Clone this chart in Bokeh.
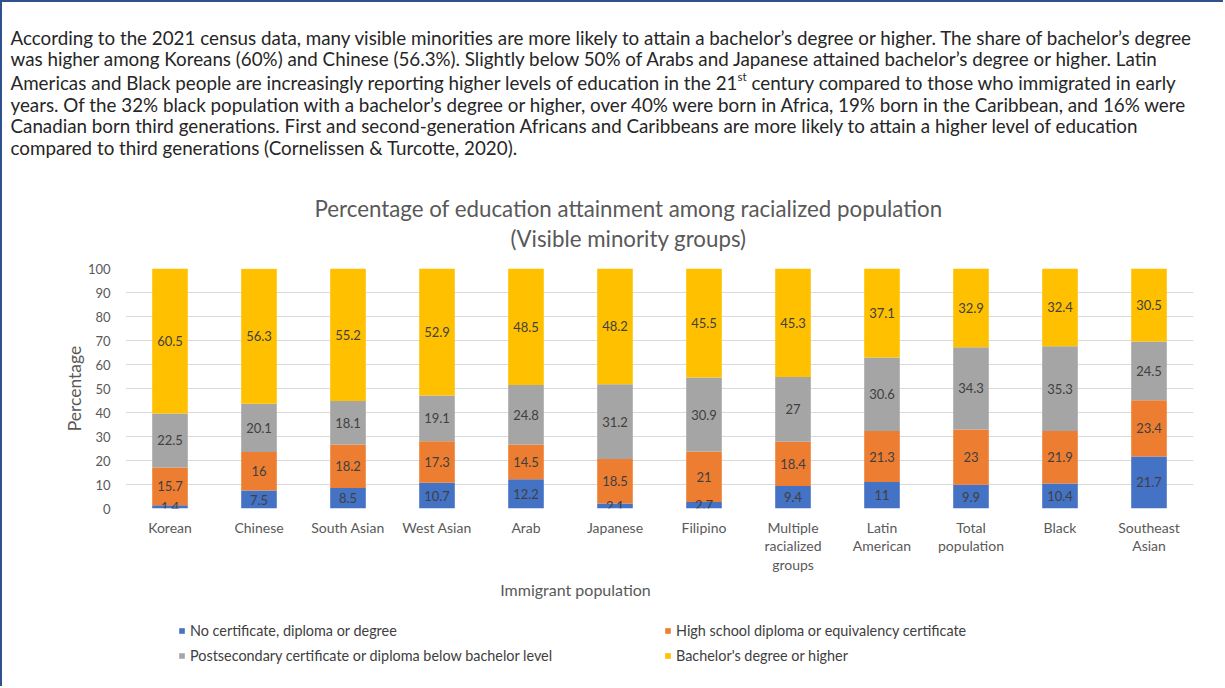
from bokeh.plotting import figure
from bokeh.models import (ColumnDataSource, Label, LabelSet, Legend, LegendItem,
                          FixedTicker, Range1d, FactorRange)
from bokeh.core.properties import value
from bokeh.embed import file_html
from bokeh.resources import INLINE

# ---------------- data ----------------
categories = ["Korean", "Chinese", "South Asian", "West Asian", "Arab", "Japanese",
              "Filipino", "Multiple\nracialized\ngroups", "Latin\nAmerican",
              "Total\npopulation", "Black", "Southeast\nAsian"]
no_certificate = [1.4, 7.5, 8.5, 10.7, 12.2, 2.1, 2.7, 9.4, 11, 9.9, 10.4, 21.7]
high_school = [15.7, 16, 18.2, 17.3, 14.5, 18.5, 21, 18.4, 21.3, 23, 21.9, 23.4]
postsecondary = [22.5, 20.1, 18.1, 19.1, 24.8, 31.2, 30.9, 27, 30.6, 34.3, 35.3, 24.5]
bachelor = [60.5, 56.3, 55.2, 52.9, 48.5, 48.2, 45.5, 45.3, 37.1, 32.9, 32.4, 30.5]
series_names = ["No certificate, diploma or degree",
                "High school diploma or equivalency certificate",
                "Postsecondary certificate or diploma below bachelor level",
                "Bachelor's degree or higher"]
y_ticks = [0, 10, 20, 30, 40, 50, 60, 70, 80, 90, 100]

title_lines = ["Percentage of education attainment among racialized population",
               "(Visible minority groups)"]
x_title = "Immigrant population"
y_title = "Percentage"

paragraph = [
    "According to the 2021 census data, many visible minorities are more likely to attain a bachelor\u2019s degree or higher. The share of bachelor\u2019s degree",
    "was higher among Koreans (60%) and Chinese (56.3%). Slightly below 50% of Arabs and Japanese attained bachelor\u2019s degree or higher. Latin",
    "Americas and Black people are increasingly reporting higher levels of education in the 21",
    "years.  Of the 32%  black population with a bachelor\u2019s degree or higher, over 40% were born in Africa, 19% born in the Caribbean, and 16% were",
    "Canadian born third generations. First and second-generation Africans and Caribbeans are more likely to attain a higher level of education",
    "compared to third generations (Cornelissen & Turcotte, 2020).",
]
para_sup = "st"
para_line3_rest = "century compared to those who immigrated in early"

colors = ["#4472C4", "#ED7D31", "#A5A5A5", "#FFC000"]
FONT = "Lato"
BORDER = "2px solid #2F528F"
W = 1223  # + 2px left border = 1225

# page geometry
TOP_H_PAGE = 255       # top figure covers page y 0..255 (incl. 2px border)
CHART_BOTTOM = 579     # chart figure covers 255..579
PAGE_H = 688
FRAME_L, FRAME_T, FRAME_R, FRAME_B = 125, 270, 1193, 510


def blank_fig(h):
    f = figure(width=W, height=h, x_range=Range1d(0, 1), y_range=Range1d(0, 1),
               output_backend="svg", toolbar_location=None,
               min_border=0, min_border_left=0, min_border_right=0,
               min_border_top=0, min_border_bottom=0)
    f.axis.visible = False
    f.grid.visible = False
    f.outline_line_color = None
    f.border_fill_color = "white"
    return f


def screen_label(fig, x, y, text, size, color, align="left"):
    fig.add_layout(Label(x=x, y=y, x_units="screen", y_units="screen", text=text,
                         text_align=align, text_baseline="middle", text_font=FONT,
                         text_font_size=size, text_color=color))


# ---------------- top figure: paragraph + title ----------------
top = blank_fig(TOP_H_PAGE - 2)
top.styles = {"border-left": BORDER, "border-top": BORDER}
def tx(px):
    return px - 2
def ty(py):
    return TOP_H_PAGE - py

PARA_SIZE = "18.8px"
para_y = [37, 58, 82, 104, 125, 147]
for t, yy in zip(paragraph, para_y):
    screen_label(top, tx(10), ty(yy), t, PARA_SIZE, "#262626")
screen_label(top, tx(737), ty(76), para_sup, "11.5px", "#262626")
screen_label(top, tx(751), ty(82), para_line3_rest, PARA_SIZE, "#262626")
for i, t in enumerate(title_lines):
    screen_label(top, tx(628), ty(208 + 30 * i), t, "22.3px", "#595959", align="center")

# ---------------- chart figure ----------------
CH = CHART_BOTTOM - TOP_H_PAGE
p = figure(width=W, height=CH, x_range=FactorRange(*categories, range_padding=0),
           y_range=Range1d(0, 100), output_backend="svg", toolbar_location=None,
           min_border_left=FRAME_L - 2, min_border_right=W + 2 - FRAME_R,
           min_border_top=FRAME_T - TOP_H_PAGE, min_border_bottom=CHART_BOTTOM - FRAME_B)
p.styles = {"border-left": BORDER}
p.outline_line_color = None
p.border_fill_color = "white"

keys = ["no_cert", "high", "post", "bach"]
src = ColumnDataSource(dict(cat=categories, no_cert=no_certificate, high=high_school,
                            post=postsecondary, bach=bachelor))
rs = p.vbar_stack(keys, x="cat", width=0.4, color=colors, source=src, line_width=0)

lx, ly, lt = [], [], []
for i, c in enumerate(categories):
    base = 0.0
    for arr in (no_certificate, high_school, postsecondary, bachelor):
        v = arr[i]
        lx.append(c)
        ly.append(base + v / 2.0)
        lt.append(f"{v:g}")
        base += v
lsrc = ColumnDataSource(dict(x=lx, y=ly, t=lt))
p.add_layout(LabelSet(x="x", y="y", text="t", source=lsrc, text_align="center",
                      text_baseline="middle", text_font=value(FONT),
                      text_font_size="13px", text_color="#404040"))

p.xgrid.grid_line_color = None
p.ygrid.grid_line_color = "#D9D9D9"
p.ygrid.ticker = FixedTicker(ticks=y_ticks)
p.yaxis.ticker = FixedTicker(ticks=y_ticks)
for ax in (p.xaxis[0], p.yaxis[0]):
    ax.axis_line_color = None
    ax.major_tick_line_color = None
    ax.minor_tick_line_color = None
    ax.major_label_text_font = FONT
    ax.major_label_text_color = "#595959"
p.yaxis.major_label_text_font_size = "13px"
p.yaxis.major_label_standoff = 9
p.yaxis.axis_label = y_title
p.yaxis.axis_label_text_font = FONT
p.yaxis.axis_label_text_font_style = "normal"
p.yaxis.axis_label_text_font_size = "17.5px"
p.yaxis.axis_label_text_color = "#595959"
p.yaxis.axis_label_standoff = 0
p.xaxis.major_label_text_font_size = "14px"
p.xaxis.major_label_standoff = 4
p.xaxis.major_label_text_line_height = 1.1

# ---------------- bottom figure: x title + legend ----------------
BH = PAGE_H - CHART_BOTTOM
bot = blank_fig(BH)
bot.styles = {"border-left": BORDER}
def bx(px):
    return px - 2
def by(py):
    return PAGE_H - py

screen_label(bot, bx(575), by(591), x_title, "16px", "#595959", align="center")

# zero-size swatch renderers, used only to draw the legend glyphs
leg_rs = [bot.vbar(x=[0], top=[0], bottom=[0], width=0, fill_color=c, line_color=None)
          for c in colors]

def make_legend(idxs, left_px):
    return Legend(items=[LegendItem(label=series_names[k], renderers=[leg_rs[k]]) for k in idxs],
                  location=(bx(left_px), by(667)), orientation="vertical",
                  glyph_width=7, glyph_height=7, label_standoff=5, padding=0, margin=0,
                  spacing=5, label_height=20, border_line_color=None,
                  background_fill_alpha=0, label_text_font=FONT,
                  label_text_font_size="14.4px", label_text_color="#404040")
bot.add_layout(make_legend([0, 2], 178))
bot.add_layout(make_legend([1, 3], 664))

open("out.html", "w").write(file_html([top, p, bot], INLINE))
